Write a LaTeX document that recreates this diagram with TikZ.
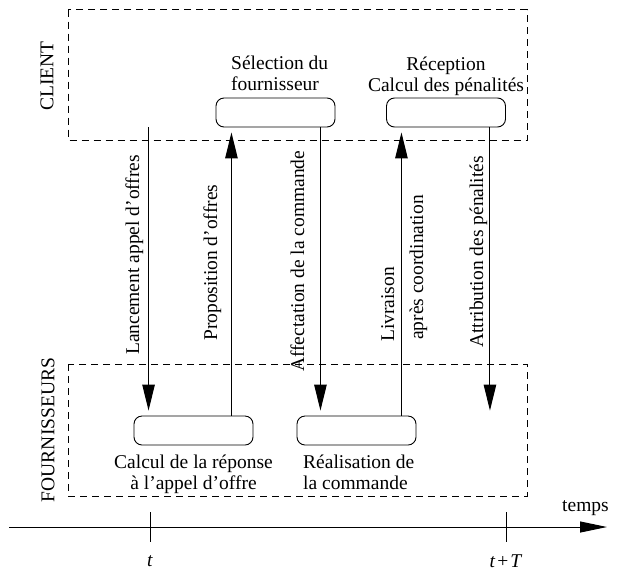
\documentclass[tikz,border=0pt]{standalone}
\usepackage{fontspec}
\setmainfont{Liberation Serif}
\usetikzlibrary{arrows.meta}
\usetikzlibrary{positioning}

\begin{document}
\begin{tikzpicture}[x=1pt,y=-1pt,
  zone/.style={dash pattern=on 7pt off 5pt,line width=0.9pt},
  proc/.style={draw,line width=0.9pt,rounded corners=8pt,minimum width=119pt,minimum height=29pt,inner sep=0pt},
  flow/.style={line width=1pt,-{Triangle[length=26pt,width=12.5pt]},shorten >=5pt},
  txt/.style={font=\fontsize{19.5}{21}\selectfont,inner sep=0pt},
  vlab/.style={txt,rotate=90,anchor=base west}]
\useasboundingbox (0,0) rectangle (617,571);

% zones
\draw[zone] (68,9.5) rectangle (527,140);
\draw[zone] (68,364) rectangle (527,496);
\node[txt,rotate=90] (client) at (47,76) {CLIENT};
\node[txt,rotate=90] (fourn) at (48,430) {FOURNISSEURS};

% activites
\node[proc] (sel) at (275.5,112.5) {};
\node[proc] (rec) at (446,112.5) {};
\node[proc] (rep) at (193.5,430.5) {};
\node[proc] (real) at (356.5,430.5) {};

\node[txt,align=left,anchor=base west] (seltxt) at (231,90.5) {Sélection du\\fournisseur};
\node[txt,align=center,anchor=base] (rectxt) at (446,91) {Réception\\Calcul des pénalités};
\node[txt,align=center,anchor=base] (reptxt) at (193.5,489) {Calcul de la réponse\\à l'appel d'offre};
\node[txt,align=left,anchor=base west] (realtxt) at (303,489) {Réalisation de\\la commande};

% echanges
\draw[flow] ([xshift=15pt]rep.north west |- sel.south) -- ([xshift=15pt]rep.north west);
\draw[flow] ([xshift=-22pt]rep.north east) -- ([xshift=-22pt]rep.north east |- sel.south);
\draw[flow] ([xshift=-15pt]sel.south east) -- ([xshift=-15pt]sel.south east |- real.north);
\draw[flow] ([xshift=-15pt]real.north east) -- ([xshift=-15pt]real.north east |- rec.south);
\draw[flow] ([xshift=-16pt]rec.south east) -- ([xshift=-16pt]rec.south east |- real.north);

\node[vlab] (lanc) at (139,355) {Lancement appel d'offres};
\node[vlab] (prop) at (217,341) {Proposition d'offres};
\node[vlab] (affe) at (304,372) {Affectation de la commande};
\node[vlab] (livr) at (394,342) {Livraison};
\node[vlab] (apres) at (423,340) {après coordination};
\node[vlab] (attr) at (483,348) {Attribution des pénalités};

% axe du temps
\coordinate (t0) at (9,527);
\coordinate (tend) at (607,527);
\draw[line width=1pt,-{Triangle[length=27pt,width=11pt]}] (t0) -- (tend);
\coordinate (tt) at (150,527);
\coordinate (ttT) at (506,527);
\draw[line width=1pt] ([yshift=15pt]tt) -- ([yshift=-15pt]tt);
\draw[line width=1pt] ([yshift=15pt]ttT) -- ([yshift=-15pt]ttT);
\node[txt,anchor=base west] (temps) at (562,511) {temps};
\node[txt] (tlab) at (150,561) {\textit{t}};
\node[txt] (tTlab) at (506,561) {\textit{t}\hspace{0.1em}+\hspace{0.1em}\textit{T}};

\end{tikzpicture}
\end{document}
